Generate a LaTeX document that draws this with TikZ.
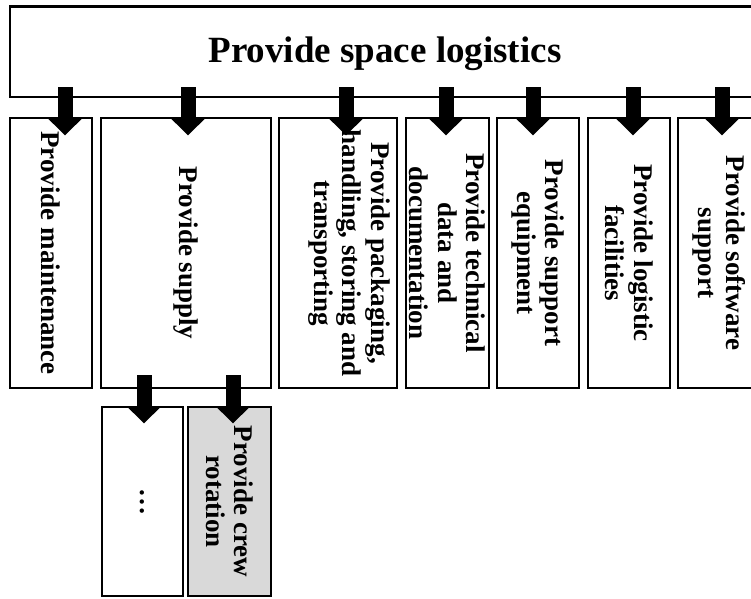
\documentclass[tikz,border=0pt]{standalone}
\usepackage{fontspec}
\setmainfont{Liberation Serif}
\usetikzlibrary{arrows.meta,calc}
\definecolor{crewgray}{RGB}{217,217,217}
\begin{document}
\begin{tikzpicture}[x=1pt,y=-1pt,
  box/.style={draw=black, line width=2.4pt, rectangle, inner sep=0pt, outer sep=0pt, anchor=north west, fill=white},
  vlabel/.style={rotate=-90, align=center, inner sep=0pt, font=\fontsize{27}{28.5}\selectfont\bfseries},
  bigarrow/.style={line width=15pt, -{Triangle[width=33pt,length=17pt]}}
]
\clip (0,0) rectangle (751,598);
\fill[white] (0,0) rectangle (751,598);

% top-level function
\node[box, minimum width=800pt, minimum height=90.5pt] (top) at (10,6.5) {};
\node[anchor=base, inner sep=0pt, font=\fontsize{37}{40}\selectfont\bfseries] (toptxt) at (385,62) {Provide space logistics};

% second level functions
\node[box, minimum width=82pt, minimum height=270pt] (m1) at (10,118) {};
\node[box, minimum width=170pt, minimum height=270pt] (m2) at (101,118) {};
\node[box, minimum width=118pt, minimum height=270pt] (m3) at (279,118) {};
\node[box, minimum width=83pt, minimum height=270pt] (m4) at (406,118) {};
\node[box, minimum width=82pt, minimum height=270pt] (m5) at (497,118) {};
\node[box, minimum width=82pt, minimum height=270pt] (m6) at (588,118) {};
\node[box, minimum width=84pt, minimum height=270pt] (m7) at (678,118) {};

\node[vlabel] (m1t) at (m1.center) {Provide maintenance};
\node[vlabel] (m2t) at (m2.center) {Provide supply};
\node[vlabel] (m3t) at ($(m3.center)+(11,0)$) {Provide packaging,\\handling, storing and\\transporting};
\node[vlabel] (m4t) at (m4.center) {Provide technical\\data and\\documentation};
\node[vlabel] (m5t) at (m5.center) {Provide support\\equipment};
\node[vlabel] (m6t) at (m6.center) {Provide logistic\\facilities};
\node[vlabel] (m7t) at ($(m7.center)+(-1,0)$) {Provide software\\support};

% third level under supply
\node[box, minimum width=81pt, minimum height=189pt] (s1) at (102,407) {};
\node[box, minimum width=83pt, minimum height=189pt, fill=crewgray] (s2) at (188,407) {};
\node[vlabel] (s1t) at (s1.center) {…};
\node[vlabel] (s2t) at (s2.center) {Provide crew\\rotation};

% arrow positions
\coordinate (c1) at (65,0);
\coordinate (c2) at (188,0);
\coordinate (c3) at (346,0);
\coordinate (c4) at (446,0);
\coordinate (c5) at (533,0);
\coordinate (c6) at (633,0);
\coordinate (c7) at (722,0);
\coordinate (d1) at (144,0);
\coordinate (d2) at (233,0);

\foreach \i in {1,...,7}{
  \draw[bigarrow] ($(top.south -| c\i)+(0,-10)$) -- ($(m\i.north -| c\i)+(0,17.5)$);
}
\draw[bigarrow] ($(m2.south -| d1)+(0,-13)$) -- ($(s1.north -| d1)+(0,16.5)$);
\draw[bigarrow] ($(m2.south -| d2)+(0,-13)$) -- ($(s2.north -| d2)+(0,16.5)$);
\end{tikzpicture}
\end{document}
